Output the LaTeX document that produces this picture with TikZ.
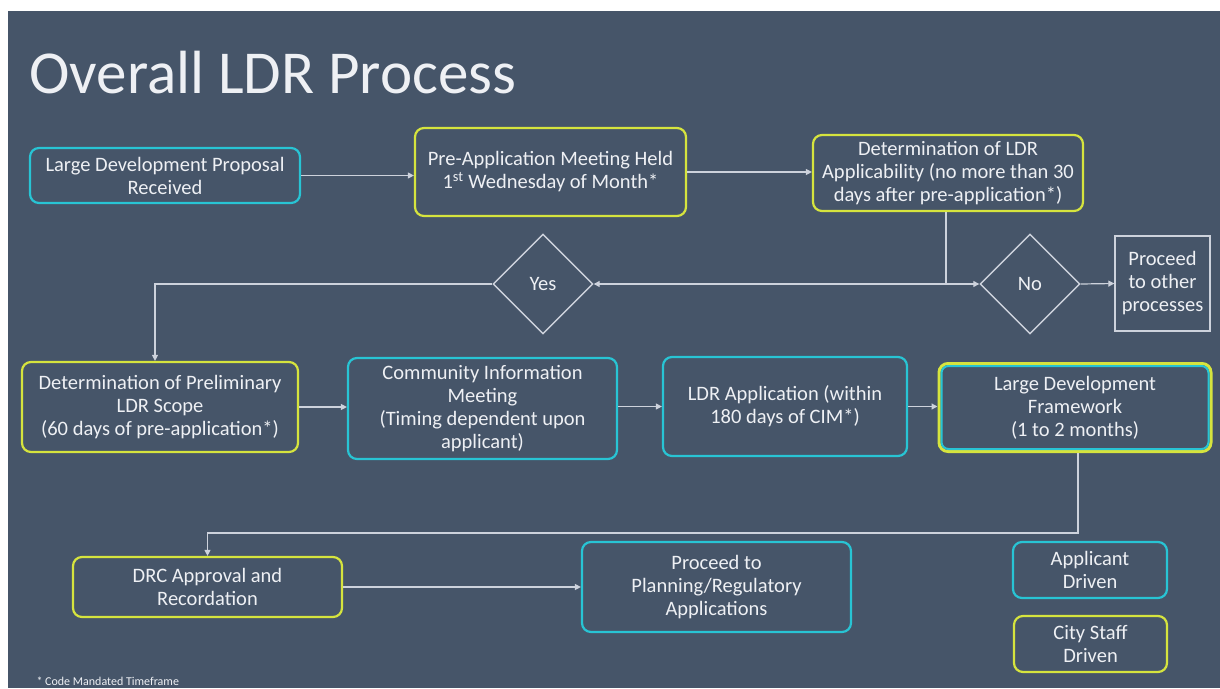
\documentclass[tikz,border=0pt]{standalone}
\usepackage{fontspec}
\setmainfont{Carlito}
\usetikzlibrary{arrows.meta,shapes.geometric}
\definecolor{slidebg}{RGB}{70,85,105}
\definecolor{cyanline}{RGB}{40,196,212}
\definecolor{yellowline}{RGB}{214,228,62}
\definecolor{flowgray}{RGB}{205,210,220}
\definecolor{txtwhite}{RGB}{238,240,244}
\tikzset{
  stepbase/.style={rounded corners=9pt,line width=2.2pt,align=center,text=txtwhite,
    font=\fontsize{20.5}{23}\selectfont,inner sep=2pt},
  applicant/.style={stepbase,draw=cyanline},
  staff/.style={stepbase,draw=yellowline},
  choice/.style={diamond,draw=flowgray,line width=1.4pt,text=txtwhite,
    font=\fontsize{20.5}{23}\selectfont,minimum width=100pt,minimum height=100pt,inner sep=0pt},
  flow/.style={draw=flowgray,line width=1.2pt,-{Triangle[length=6pt,width=6pt]}}
}
\begin{document}
\begin{tikzpicture}[x=1pt,y=-1pt]
\useasboundingbox (0,0) rectangle (1220,688);
\fill[white] (0,0) rectangle (1220,688);
\fill[slidebg] (8,11) rectangle (1220,688);

\node[anchor=base west,text=txtwhite,font=\fontsize{61}{70}\selectfont] (title) at (26,93) {Overall LDR Process};

% first row
\node[applicant,minimum width=270pt,minimum height=55pt] (propbox) at (165,175.5) {Large Development Proposal\\Received};
\node[staff,minimum width=271pt,minimum height=88pt] (premeet) at (550.5,172) {Pre-Application Meeting Held\\1\textsuperscript{st} Wednesday of Month*};
\node[staff,minimum width=270pt,minimum height=76pt] (applic) at (948,173) {Determination of LDR\\Applicability (no more than 30\\days after pre-application*)};

% decision row
\node[choice] (yes) at (543,284) {Yes};
\node[choice] (no) at (1030,284) {No};
\node[draw=flowgray,line width=1.4pt,text=txtwhite,align=center,font=\fontsize{20.5}{23}\selectfont,
  minimum width=95pt,minimum height=95pt,inner sep=0pt] (other) at (1162.5,283.5) {Proceed\\to other\\processes};

% second row
\node[staff,minimum width=276pt,minimum height=90pt] (prelim) at (160,407) {Determination of Preliminary\\LDR Scope\\(60 days of pre-application*)};
\node[applicant,minimum width=269pt,minimum height=101pt] (cim) at (482.5,408.5) {Community Information\\Meeting\\(Timing dependent upon\\applicant)};
\node[applicant,minimum width=244pt,minimum height=99pt] (ldrapp) at (785,406.5) {LDR Application (within\\180 days of CIM*)};
\node[staff,line width=3pt,minimum width=272pt,minimum height=88pt] (frame) at (1075,407.5) {Large Development\\Framework\\(1 to 2 months)};
\draw[cyanline,line width=2pt,rounded corners=7pt]
  ([shift={(4pt,4pt)}]frame.south west) rectangle ([shift={(-4pt,-4pt)}]frame.north east);

% last row
\node[staff,minimum width=269pt,minimum height=60pt] (drc) at (207.5,587) {DRC Approval and\\Recordation};
\node[applicant,minimum width=269pt,minimum height=90pt] (planning) at (716.5,587) {Proceed to\\Planning/Regulatory\\Applications};

% key
\node[applicant,minimum width=154pt,minimum height=56pt] (keyapp) at (1090,570) {Applicant\\Driven};
\node[staff,minimum width=153pt,minimum height=56pt] (keystaff) at (1090.5,644) {City Staff\\Driven};

\node[anchor=base west,text=txtwhite,font=\fontsize{12}{14}\selectfont] (note) at (33,685) {* Code Mandated Timeframe};

% connectors
\draw[flow] (propbox.east) -- (propbox.east -| premeet.west);
\draw[flow] (premeet.east) -- (premeet.east -| applic.west);
\coordinate (split) at (946,284);
\draw[draw=flowgray,line width=1.2pt] (applic.south -| split) -- (split);
\draw[flow] (split) -- (yes.east);
\draw[flow] (split) -- (no.west);
\draw[flow] (no.east) -- (other.west);
\draw[flow] (yes.west) -| ([xshift=-5pt]prelim.north);
\draw[flow] (prelim.east) -- (prelim.east -| cim.west);
\draw[flow] (cim.east |- ldrapp.west) -- (ldrapp.west);
\draw[flow] (ldrapp.east) -- (ldrapp.east -| frame.west);
\coordinate (turn) at (1078,533);
\draw[flow] ([xshift=3pt]frame.south) -- (turn) -| (drc.north);
\draw[flow] (drc.east) -- (drc.east -| planning.west);
\end{tikzpicture}
\end{document}
